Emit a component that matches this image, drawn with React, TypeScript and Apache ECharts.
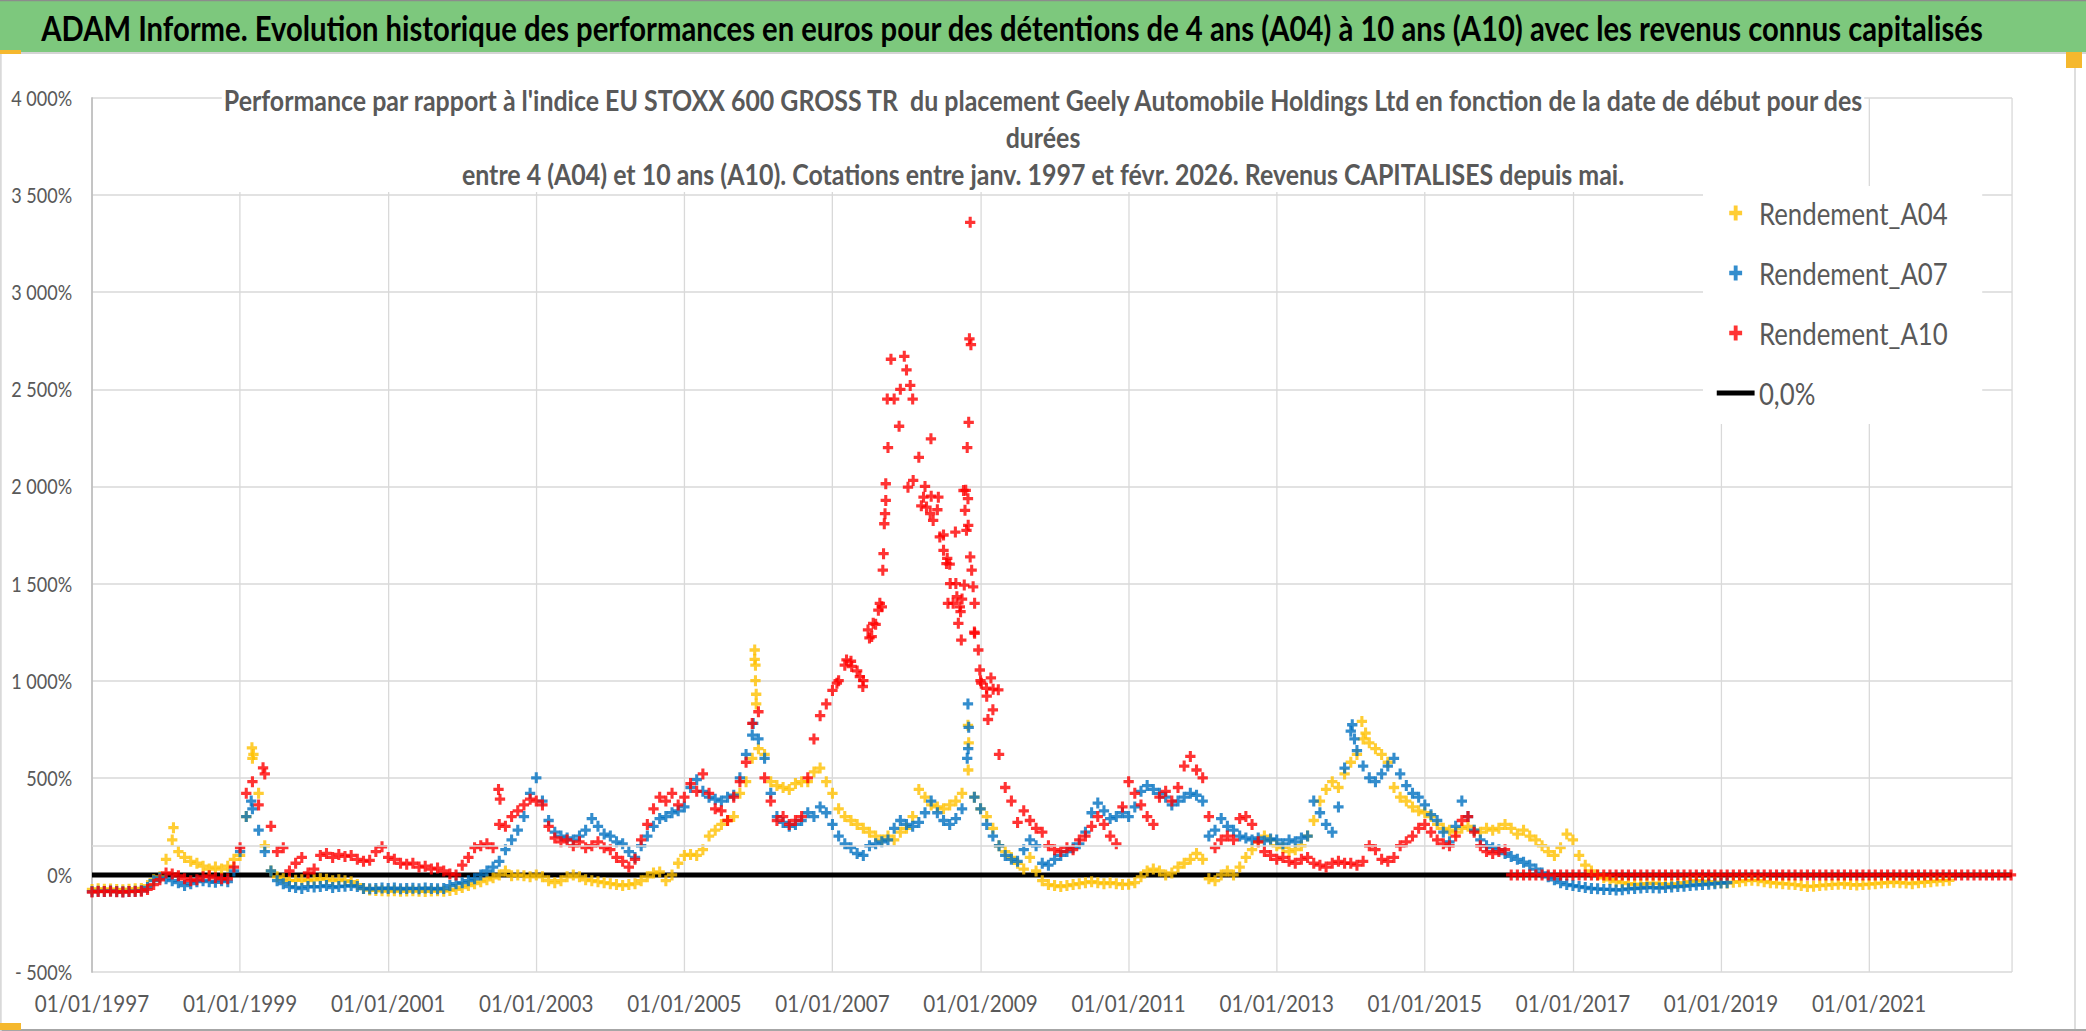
import React, { useEffect, useRef } from 'react';
import * as echarts from 'echarts';

// ---------- layout helpers (reference is horizontally condensed) ----------
const W = 2086;
const H = 1031;
const UW = 2426;
const S = W / UW;
const ux = (x: number) => x / S;

// ---------- texts ----------
const BANNER = "ADAM Informe. Evolution historique des performances en euros pour des détentions de 4 ans (A04) à 10 ans (A10) avec les revenus connus capitalisés";
const SUBTITLE_LINES = [
  "Performance par rapport à l'indice EU STOXX 600 GROSS TR  du placement Geely Automobile Holdings Ltd en fonction de la date de début pour des",
  "durées",
  "entre 4 (A04) et 10 ans (A10). Cotations entre janv. 1997 et févr. 2026. Revenus CAPITALISES depuis mai.",
];
const SERIES_NAMES = ['Rendement_A04', 'Rendement_A07', 'Rendement_A10', '0,0%'];
const START_YEAR = 1997;
const X_MAX = 25.93; // years after 01/01/1997
const Y_MIN = -500;
const Y_MAX = 4000;
const Y_STEP = 500;

// ---------- data: monthly values (%) starting Jan 1997 ----------
const A04_MONTHLY = [
  -75, -72, -74, -73, -75, -76, -74, -72, -70, -55, -25, -10,
  80, 180, 120, 90, 70, 60, 45, 30, 40, 30, 45, 80,
  100, 300, 600, 420, 150, 20, -10, -20, -30, -28, -25, -30,
  -25, -20, -22, -30, -25, -30, -35, -50, -70, -78, -80, -82,
  -83, -82, -84, -83, -82, -84, -85, -83, -82, -84, -80, -75,
  -65, -55, -45, -35, -25, -15, 0, 20, -5, 0, -5, -10,
  0, -10, -30, -40, -30, -10, 0, -10, -25, -30, -35, -40,
  -45, -50, -55, -50, -45, -30, -10, 10, 15, -30, 0, 60,
  100, 105, 100, 130, 200, 230, 260, 280, 300, 420, 480, 600,
  650, 620, 480, 460, 450, 440, 470, 480, 480, 530, 550, 480,
  420, 340, 300, 280, 260, 240, 220, 200, 180, 200, 180, 220,
  240, 300, 440, 400, 360, 350, 340, 360, 380, 420, 540, 400,
  340, 300, 240, 150, 120, 90, 60, 30, 90, 20, -30, -50,
  -55, -60, -55, -50, -45, -40, -35, -40, -45, -40, -45, -50,
  -48, -40, -10, 20, 30, 20, 0, 10, 40, 60, 80, 110,
  80, -20, -30, 0, 20, 0, 40, 90, 130, 170, 200, 180,
  150, 140, 120, 130, 150, 200, 280, 380, 440, 480, 450, 520,
  580, 620, 700, 680, 650, 620, 580, 450, 400, 380, 350, 330,
  320, 300, 260, 240, 230, 220, 240, 250, 230, 220, 240, 230,
  240, 260, 240, 210, 230, 200, 180, 150, 120, 100, 140, 210,
  180, 100, 50, 20, 0, -15, -25, -35, -40, -45, -50, -48,
  -45, -42, -45, -48, -50, -45, -40, -35, -30, -32, -35, -38,
  -40, -42, -38, -35, -30, -28, -30, -35, -40, -42, -45, -48,
  -50, -55, -60, -58, -55, -52, -50, -48, -45, -50, -52, -50,
  -48, -45, -42, -40, -38, -40, -42, -45, -40, -38, -35, -32,
  -30, -28,
];
const A04_EXTRA = [
  [1.1, 243], [2.16, 654], [2.18, 620], [8.95, 1158], [8.95, 1110], [8.96, 1080],
  [8.96, 1000], [8.97, 930], [8.97, 880], [11.83, 770], [11.84, 680], [17.15, 790], [17.2, 730],
];

const A07_MONTHLY = [
  -86, -84, -85, -83, -86, -87, -85, -84, -82, -65, -30, -15,
  -20, -30, -40, -55, -45, -35, -30, -35, -38, -30, -35, 20,
  120, 300, 340, 230, 120, 20, -30, -45, -60, -65, -70, -60,
  -62, -60, -55, -65, -60, -58, -55, -60, -70, -72, -70, -68,
  -70, -68, -72, -70, -69, -71, -68, -70, -72, -70, -55, -45,
  -40, -30, -20, 0, 20, 40, 70, 130, 180, 230, 300, 420,
  500, 380, 280, 220, 200, 190, 180, 200, 230, 290, 250, 210,
  200, 170, 160, 120, 90, 150, 200, 250, 290, 300, 320, 330,
  350, 450, 490, 430, 400, 390, 380, 400, 410, 500, 620, 720,
  700, 600, 420, 300, 270, 250, 260, 280, 320, 300, 350, 320,
  260, 200, 160, 140, 110, 100, 150, 160, 170, 180, 240, 280,
  260, 250, 270, 320, 380, 320, 280, 260, 290, 340, 650, 400,
  340, 260, 200, 150, 100, 80, 70, 130, 180, 150, 60, 50,
  80, 100, 120, 140, 160, 220, 320, 370, 330, 290, 300, 320,
  300, 350, 430, 460, 440, 420, 400, 360, 380, 400, 420, 410,
  380, 200, 230, 290, 250, 230, 200, 190, 180, 190, 175, 185,
  180, 160, 180, 170, 190, 200, 380, 320, 260, 220, 350, 550,
  740, 640, 560, 500, 480, 520, 560, 600, 520, 460, 420, 400,
  360, 310, 280, 220, 170, 250, 380, 300, 230, 180, 150, 140,
  130, 110, 95, 80, 65, 50, 30, 10, -10, -25, -40, -50,
  -55, -60, -65, -70, -72, -75, -75, -78, -76, -72, -70, -68,
  -65, -66, -68, -65, -62, -60, -58, -55, -52, -50, -48, -45,
  -42, -40,
];
const A07_EXTRA = [
  [2.15, 380], [8.93, 780], [11.82, 600], [11.83, 880], [11.84, 760], [17.02, 773], [17.05, 700],
];

const A10_MONTHLY = [
  -88, -85, -86, -84, -87, -88, -86, -85, -84, -75, -50, -25,
  10, 5, -5, -20, -30, -25, -10, -5, -15, -20, -20, 40,
  140, 420, 480, 360, 520, 250, 120, 140, 20, 60, 90, 10,
  30, 100, 110, 90, 105, 95, 100, 80, 70, 75, 120, 145,
  90, 80, 60, 55, 60, 40, 45, 30, 35, 20, 5, 0,
  50, 90, 140, 150, 160, 140, 260, 250, 300, 330, 360, 390,
  380, 360, 250, 190, 170, 180, 150, 170, 140, 150, 170, 140,
  130, 90, 70, 40, 80, 180, 260, 340, 400, 380, 420, 360,
  400, 470, 430, 520, 420, 340, 330, 280, 400, 480, 580, 780,
  840, 500, 380, 280, 300, 260, 280, 300, 500, 700, 820, 880,
  950, 1000, 1080, 1100, 1050, 1000, 1220, 1290, 1380, 2200, 2450, 2500,
  2600, 2450, 2150, 2000, 1950, 1880, 1750, 1600, 1500, 1420, 1800, 1250,
  1000, 920, 850, 620, 450, 380, 270, 330, 280, 240, 220, 150,
  130, 120, 140, 130, 180, 200, 250, 300, 260, 200, 160, 350,
  480, 420, 360, 300, 260, 400, 430, 380, 450, 560, 610, 540,
  500, 300, 140, 180, 200, 180, 290, 300, 260, 170, 120, 100,
  80, 90, 70, 60, 80, 90, 60, 50, 40, 60, 70, 60,
  60, 50, 70, 150, 130, 80, 70, 90, 150, 170, 200, 240,
  260, 220, 180, 160, 150, 200, 280, 300, 220, 150, 120, 110,
  120, 130, 0, 0, 0, 0, 0, 0, 0, 0, 0, 0,
  0, 0, 0, 0, 0, 0, 0, 0, 0, 0, 0, 0,
  0, 0, 0, 0, 0, 0, 0, 0, 0, 0, 0, 0,
  0, 0, 0, 0, 0, 0, 0, 0, 0, 0, 0, 0,
  0, 0, 0, 0, 0, 0, 0, 0, 0, 0, 0, 0,
  0, 0, 0, 0, 0, 0, 0, 0, 0, 0, 0, 0,
  0, 0, 0, 0, 0, 0, 0, 0, 0, 0, 0, 0,
];
const A10_EXTRA = [
  [2.31, 551], [5.49, 440], [5.51, 390], [10.74, 2450], [10.79, 2655], [10.9, 2310],
  [10.97, 2670], [11.05, 2520], [11.2, 1900], [11.33, 2245], [11.55, 1630], [11.66, 1765],
  [11.73, 1355], [11.78, 1492], [11.8, 1980], [11.82, 2200], [11.84, 2330], [11.85, 2760],
  [11.86, 3360], [11.87, 2730], [12.1, 800], [12.14, 1014],
  [10.06, 987], [10.19, 1107], [10.26, 1073], [10.37, 1021], [10.41, 970], [10.48, 1261],
  [10.53, 1227], [10.55, 1295], [10.62, 1363], [10.64, 1398], [10.68, 1569], [10.69, 1654],
  [10.7, 1808], [10.71, 1860], [10.72, 1928], [10.72, 2014], [11.02, 1996], [11.09, 2031],
  [11.23, 1945], [11.27, 1894], [11.32, 1860], [11.36, 1825], [11.43, 1945], [11.45, 1740],
  [11.5, 1671], [11.54, 1603], [11.56, 1398], [11.59, 1500], [11.63, 1398], [11.68, 1432],
  [11.7, 1295], [11.72, 1380], [11.74, 1209], [11.77, 1979], [11.79, 1877], [11.81, 1774],
  [11.83, 1937], [11.86, 1637], [11.88, 1569], [11.9, 1483], [11.92, 1398], [11.92, 1244],
  [11.97, 1158], [11.99, 1055], [12.01, 987], [12.08, 961], [12.17, 956], [12.24, 953],
];
const ZERO_LINE = [[0, 0], [X_MAX, 0]];
const REF_LINE_150 = 150;

const PLUS = 'path://M3.5,0H6.5V3.5H10V6.5H6.5V10H3.5V6.5H0V3.5H3.5Z';
const BAR_ICON = 'path://M0,0H44V5H0Z';

const toPoints = (vals: number[]) => vals.map((v, i) => [i / 12, v]);

const fmtY = (v: number) => {
  const a = Math.abs(v);
  const s = a >= 1000 ? `${Math.floor(a / 1000)} ${String(a % 1000).padStart(3, '0')}` : String(a);
  if (v === 0) return '0%';
  return (v < 0 ? '- ' : '') + s + '%';
};

const FONT = 'Lato, "Open Sans", sans-serif';
const GREY = '#595959';

export default function App() {
  const ref = useRef<HTMLDivElement>(null);
  useEffect(() => {
    if (!ref.current) return;
    const chart = echarts.init(ref.current, undefined, { renderer: 'svg', width: UW, height: H });
    const scatterBase = {
      type: 'scatter',
      symbol: PLUS,
      symbolSize: [12, 11],
      symbolKeepAspect: false,
    };
    chart.setOption({
      animation: false,
      backgroundColor: '#ffffff',
      title: {
        text: SUBTITLE_LINES.join('\n'),
        left: 'center',
        top: 81,
        padding: 0,
        backgroundColor: '#ffffff',
        textStyle: { fontFamily: FONT, fontWeight: 'bold', fontSize: 29, color: GREY, lineHeight: 37 },
      },
      legend: {
        orient: 'vertical',
        left: ux(1703),
        top: 186,
        backgroundColor: '#ffffff',
        padding: [12, 40, 16, 16],
        itemGap: 30,
        itemWidth: 44,
        itemHeight: 15,
        textStyle: { fontFamily: FONT, fontSize: 30, color: GREY },
        data: [
          { name: SERIES_NAMES[0], icon: PLUS },
          { name: SERIES_NAMES[1], icon: PLUS },
          { name: SERIES_NAMES[2], icon: PLUS },
          { name: SERIES_NAMES[3], icon: BAR_ICON },
        ],
      },
      grid: { left: ux(92), right: UW - ux(2012), top: 98, bottom: H - 972, containLabel: false },
      xAxis: {
        type: 'value',
        min: 0,
        max: X_MAX,
        interval: 2,
        axisLine: { show: true, lineStyle: { color: '#BFBFBF', width: 2 } },
        axisTick: { show: false },
        splitLine: { show: true, lineStyle: { color: '#D9D9D9', width: 1.5 } },
        axisLabel: {
          margin: 19,
          color: GREY,
          fontFamily: FONT,
          fontSize: 24,
          showMaxLabel: false,
          formatter: (v: number) => (Math.abs(v % 2) < 1e-9 && v <= 24 ? `01/01/${START_YEAR + v}` : ''),
        },
      },
      yAxis: {
        type: 'value',
        min: Y_MIN,
        max: Y_MAX,
        interval: Y_STEP,
        axisLine: { show: true, lineStyle: { color: '#BFBFBF', width: 2 } },
        axisTick: { show: false },
        splitLine: { show: true, lineStyle: { color: '#D9D9D9', width: 1.5 } },
        axisLabel: { margin: 23, color: GREY, fontFamily: FONT, fontSize: 21, formatter: fmtY },
      },
      series: [
        {
          name: SERIES_NAMES[3],
          type: 'line',
          data: ZERO_LINE,
          symbol: 'none',
          z: 1,
          lineStyle: { color: '#000000', width: 5 },
          itemStyle: { color: '#000000' },
          markLine: {
            silent: true,
            symbol: 'none',
            label: { show: false },
            lineStyle: { color: '#D9D9D9', width: 1.5, type: 'solid' },
            data: [{ yAxis: REF_LINE_150 }],
          },
        },
        { ...scatterBase, name: SERIES_NAMES[0], z: 2, itemStyle: { color: '#FFC000' }, data: toPoints(A04_MONTHLY).concat(A04_EXTRA) },
        { ...scatterBase, name: SERIES_NAMES[1], z: 3, itemStyle: { color: '#0070C0' }, data: toPoints(A07_MONTHLY).concat(A07_EXTRA) },
        { ...scatterBase, name: SERIES_NAMES[2], z: 4, itemStyle: { color: '#FF0000' }, data: toPoints(A10_MONTHLY).concat(A10_EXTRA) },
      ],
      graphic: [
        { type: 'rect', shape: { x: 0, y: 0, width: UW, height: 52 }, style: { fill: '#7DC87D' }, z: 10 },
        { type: 'line', shape: { x1: 0, y1: 0.5, x2: UW, y2: 0.5 }, style: { stroke: '#8C8C8C', lineWidth: 1.5 }, z: 11 },
        { type: 'line', shape: { x1: 0, y1: 53, x2: UW, y2: 53 }, style: { stroke: '#D4D4D4', lineWidth: 2 }, z: 11 },
        {
          type: 'text', x: ux(1012), y: 28, z: 12,
          style: { text: BANNER, fill: '#000000', font: `bold 34px ${FONT}`, align: 'center', verticalAlign: 'middle' },
        },
        { type: 'line', shape: { x1: ux(2075), y1: 54, x2: ux(2075), y2: H }, style: { stroke: '#D9D9D9', lineWidth: 2 }, z: 11 },
        { type: 'line', shape: { x1: 0, y1: H - 1, x2: UW, y2: H - 1 }, style: { stroke: '#A6A6A6', lineWidth: 2 }, z: 11 },
        { type: 'line', shape: { x1: 1, y1: 54, x2: 1, y2: H }, style: { stroke: '#D9D9D9', lineWidth: 2 }, z: 11 },
        { type: 'rect', shape: { x: 0, y: 50, width: ux(21), height: 4 }, style: { fill: '#F5B82E' }, z: 12 },
        { type: 'rect', shape: { x: 0, y: H - 8, width: ux(21), height: 7 }, style: { fill: '#F5B82E' }, z: 12 },
        { type: 'rect', shape: { x: ux(2066), y: 52, width: ux(16), height: 16 }, style: { fill: '#F5B82E' }, z: 12 },
      ],
    });
    return () => chart.dispose();
  }, []);
  return (
    <div style={{ position: 'fixed', left: 0, top: 0, width: W, height: H, overflow: 'hidden', background: '#ffffff' }}>
      <div ref={ref} style={{ width: UW, height: H, transform: `scaleX(${S})`, transformOrigin: '0 0' }} />
    </div>
  );
}
